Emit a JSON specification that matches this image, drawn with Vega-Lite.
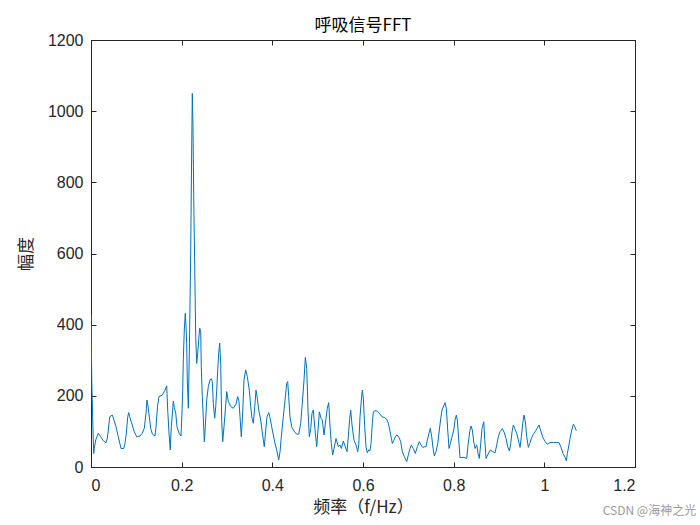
{
 "$schema": "https://vega.github.io/schema/vega-lite/v6.json",
 "width": 544, "height": 427,
 "autosize": {"type": "none"},
 "padding": {"left": 91, "top": 40, "right": 65, "bottom": 58},
 "background": "white",
 "title": {"text": "呼吸信号FFT", "font": "Noto Sans CJK SC", "fontSize": 17, "fontWeight": "normal", "color": "#000000", "offset": -3},
 "config": {
  "view": {"stroke": "#262626", "strokeWidth": 1},
  "axis": {"grid": false, "domainColor": "#262626", "tickColor": "#262626", "tickSize": -5, "labelFont": "Liberation Sans", "labelFontSize": 16, "labelColor": "#262626", "titleFont": "Noto Sans CJK SC", "titleFontSize": 17, "titleFontWeight": "normal", "titleColor": "#262626"}
 },
 "datasets": {"fft": [
{"f":0,"a":430},{"f":0.0018,"a":235},{"f":0.0044,"a":104},{"f":0.006,"a":38},{"f":0.0073,"a":52},{"f":0.0104,"a":76},{"f":0.0161,"a":95},{"f":0.0214,"a":85},{"f":0.0271,"a":74},{"f":0.0331,"a":68},{"f":0.036,"a":81},{"f":0.0382,"a":104},{"f":0.0413,"a":141},{"f":0.047,"a":146},{"f":0.0507,"a":132},{"f":0.0552,"a":113},{"f":0.0602,"a":85},{"f":0.0662,"a":52},{"f":0.0721,"a":52},{"f":0.075,"a":67},{"f":0.0779,"a":95},{"f":0.081,"a":141},{"f":0.0832,"a":153},{"f":0.0854,"a":141},{"f":0.0898,"a":123},{"f":0.0955,"a":99},{"f":0.1008,"a":85},{"f":0.1081,"a":87},{"f":0.1132,"a":95},{"f":0.1176,"a":109},{"f":0.1213,"a":151},{"f":0.1235,"a":188},{"f":0.1257,"a":171},{"f":0.1286,"a":141},{"f":0.1317,"a":109},{"f":0.1352,"a":93},{"f":0.1412,"a":87},{"f":0.1434,"a":113},{"f":0.1471,"a":174},{"f":0.15,"a":198},{"f":0.1573,"a":202},{"f":0.1633,"a":216},{"f":0.167,"a":228},{"f":0.1692,"a":160},{"f":0.1721,"a":95},{"f":0.1749,"a":48},{"f":0.1771,"a":113},{"f":0.1802,"a":160},{"f":0.1816,"a":185},{"f":0.1838,"a":167},{"f":0.1869,"a":151},{"f":0.1897,"a":113},{"f":0.1941,"a":95},{"f":0.1985,"a":87},
{"f":0.2001,"a":132},{"f":0.2023,"a":216},{"f":0.2036,"a":301},{"f":0.2058,"a":385},{"f":0.208,"a":432},{"f":0.2096,"a":394},{"f":0.2111,"a":348},{"f":0.2124,"a":245},{"f":0.2147,"a":165},{"f":0.2169,"a":320},{"f":0.22,"a":610},{"f":0.2222,"a":905},{"f":0.2235,"a":1050},{"f":0.225,"a":952},{"f":0.2266,"a":760},{"f":0.2288,"a":563},{"f":0.231,"a":366},{"f":0.2332,"a":291},{"f":0.2354,"a":320},{"f":0.2376,"a":357},{"f":0.2398,"a":390},{"f":0.242,"a":380},{"f":0.2433,"a":282},{"f":0.2455,"a":198},{"f":0.2477,"a":141},{"f":0.25,"a":71},{"f":0.2522,"a":113},{"f":0.2552,"a":188},{"f":0.2588,"a":226},{"f":0.2625,"a":245},{"f":0.2654,"a":248},{"f":0.2676,"a":240},{"f":0.2698,"a":179},{"f":0.2729,"a":137},{"f":0.2751,"a":169},{"f":0.2773,"a":216},{"f":0.2795,"a":273},{"f":0.2817,"a":320},{"f":0.2839,"a":348},{"f":0.2861,"a":292},{"f":0.2883,"a":130},{"f":0.2905,"a":71},{"f":0.2934,"a":113},{"f":0.2963,"a":160},{"f":0.2994,"a":212},
{"f":0.3029,"a":184},{"f":0.3082,"a":170},{"f":0.3139,"a":165},{"f":0.3199,"a":177},{"f":0.3236,"a":198},{"f":0.3265,"a":184},{"f":0.3287,"a":141},{"f":0.3316,"a":85},{"f":0.3347,"a":155},{"f":0.3375,"a":245},{"f":0.3413,"a":273},{"f":0.3448,"a":254},{"f":0.3492,"a":216},{"f":0.3523,"a":170},{"f":0.3552,"a":137},{"f":0.3581,"a":123},{"f":0.3612,"a":170},{"f":0.364,"a":216},{"f":0.3669,"a":193},{"f":0.37,"a":160},{"f":0.3744,"a":132},{"f":0.3772,"a":104},{"f":0.3801,"a":76},{"f":0.3823,"a":57},{"f":0.3854,"a":104},{"f":0.3883,"a":141},{"f":0.392,"a":153},{"f":0.3949,"a":139},{"f":0.3986,"a":113},
{"f":0.4022,"a":90},{"f":0.4059,"a":66},{"f":0.4097,"a":48},{"f":0.4141,"a":20},{"f":0.417,"a":43},{"f":0.4198,"a":85},{"f":0.4242,"a":141},{"f":0.428,"a":188},{"f":0.4317,"a":235},{"f":0.4339,"a":240},{"f":0.4361,"a":198},{"f":0.439,"a":141},{"f":0.4428,"a":113},{"f":0.4478,"a":101},{"f":0.4538,"a":92},{"f":0.4582,"a":92},{"f":0.4626,"a":123},{"f":0.4661,"a":179},{"f":0.4699,"a":245},{"f":0.4728,"a":308},{"f":0.4759,"a":277},{"f":0.4787,"a":160},{"f":0.4816,"a":85},{"f":0.4847,"a":108},{"f":0.4875,"a":151},{"f":0.4904,"a":160},{"f":0.4942,"a":104},{"f":0.4979,"a":57},
{"f":0.5008,"a":104},{"f":0.5037,"a":155},{"f":0.5074,"a":137},{"f":0.5103,"a":132},{"f":0.514,"a":90},{"f":0.5184,"a":137},{"f":0.5213,"a":165},{"f":0.5244,"a":181},{"f":0.5273,"a":113},{"f":0.5301,"a":66},{"f":0.5332,"a":34},{"f":0.5361,"a":52},{"f":0.5405,"a":80},{"f":0.5456,"a":57},{"f":0.5493,"a":62},{"f":0.5522,"a":52},{"f":0.5566,"a":73},{"f":0.561,"a":57},{"f":0.5648,"a":43},{"f":0.5676,"a":85},{"f":0.5707,"a":137},{"f":0.5729,"a":160},{"f":0.5758,"a":118},{"f":0.5802,"a":75},{"f":0.5846,"a":62},{"f":0.5884,"a":43},{"f":0.5906,"a":62},{"f":0.5934,"a":141},{"f":0.5963,"a":188},{"f":0.5985,"a":216},
{"f":0.6007,"a":193},{"f":0.6038,"a":113},{"f":0.6067,"a":57},{"f":0.6095,"a":40},{"f":0.6126,"a":48},{"f":0.6155,"a":46},{"f":0.6177,"a":66},{"f":0.6206,"a":123},{"f":0.6228,"a":155},{"f":0.6265,"a":158},{"f":0.6316,"a":157},{"f":0.636,"a":151},{"f":0.642,"a":141},{"f":0.6479,"a":139},{"f":0.6523,"a":134},{"f":0.6559,"a":123},{"f":0.659,"a":104},{"f":0.6625,"a":81},{"f":0.6647,"a":66},{"f":0.6678,"a":74},{"f":0.6713,"a":85},{"f":0.6744,"a":90},{"f":0.6773,"a":87},{"f":0.6801,"a":81},{"f":0.6832,"a":71},{"f":0.6868,"a":43},{"f":0.6912,"a":29},{"f":0.6965,"a":15},
{"f":0.7,"a":34},{"f":0.7037,"a":52},{"f":0.7066,"a":62},{"f":0.711,"a":52},{"f":0.7154,"a":38},{"f":0.7199,"a":57},{"f":0.7243,"a":71},{"f":0.728,"a":62},{"f":0.7318,"a":55},{"f":0.7362,"a":57},{"f":0.739,"a":57},{"f":0.7419,"a":76},{"f":0.7457,"a":95},{"f":0.7485,"a":109},{"f":0.7516,"a":85},{"f":0.7545,"a":52},{"f":0.7574,"a":31},{"f":0.7611,"a":43},{"f":0.7649,"a":66},{"f":0.7684,"a":104},{"f":0.7715,"a":137},{"f":0.7743,"a":160},{"f":0.7781,"a":172},{"f":0.781,"a":181},{"f":0.7838,"a":165},{"f":0.7869,"a":104},{"f":0.7898,"a":52},{"f":0.7927,"a":66},{"f":0.7964,"a":85},
{"f":0.8002,"a":104},{"f":0.803,"a":132},{"f":0.8059,"a":146},{"f":0.8081,"a":132},{"f":0.8112,"a":76},{"f":0.814,"a":26},{"f":0.8185,"a":27},{"f":0.8229,"a":27},{"f":0.8288,"a":24},{"f":0.8317,"a":62},{"f":0.8354,"a":99},{"f":0.8383,"a":115},{"f":0.8412,"a":104},{"f":0.8443,"a":71},{"f":0.8471,"a":52},{"f":0.8509,"a":62},{"f":0.8538,"a":38},{"f":0.8566,"a":24},{"f":0.8597,"a":66},{"f":0.8626,"a":108},{"f":0.8664,"a":127},{"f":0.8686,"a":76},{"f":0.8715,"a":24},{"f":0.8759,"a":36},{"f":0.8809,"a":48},{"f":0.8862,"a":43},{"f":0.8913,"a":40},{"f":0.895,"a":62},{"f":0.8985,"a":85},
{"f":0.9023,"a":99},{"f":0.9074,"a":108},{"f":0.9118,"a":96},{"f":0.9155,"a":80},{"f":0.9193,"a":57},{"f":0.9228,"a":45},{"f":0.9259,"a":66},{"f":0.9288,"a":99},{"f":0.9317,"a":118},{"f":0.9348,"a":108},{"f":0.9392,"a":94},{"f":0.9427,"a":76},{"f":0.9464,"a":55},{"f":0.9493,"a":85},{"f":0.9524,"a":123},{"f":0.9552,"a":146},{"f":0.9581,"a":127},{"f":0.9612,"a":85},{"f":0.9647,"a":55},{"f":0.9678,"a":66},{"f":0.9722,"a":83},{"f":0.9757,"a":92},{"f":0.9795,"a":99},{"f":0.9839,"a":108},{"f":0.9883,"a":118},{"f":0.9927,"a":99},{"f":0.9971,"a":82},
{"f":1.0022,"a":71},{"f":1.0066,"a":64},{"f":1.0126,"a":69},{"f":1.0199,"a":69},{"f":1.0274,"a":69},{"f":1.0325,"a":68},{"f":1.0369,"a":55},{"f":1.0413,"a":38},{"f":1.0457,"a":27},{"f":1.0486,"a":17},{"f":1.0508,"a":38},{"f":1.0539,"a":59},{"f":1.0567,"a":80},{"f":1.0605,"a":104},{"f":1.064,"a":120},{"f":1.0671,"a":113},{"f":1.0706,"a":102}
 ],
 "mark_note": [{"label": "CSDN @海神之光", "f": 1.335, "a": -124}]},
 "layer": [
  {
   "data": {"name": "fft"},
   "mark": {"type": "line", "color": "#0072BD", "strokeWidth": 1, "clip": true},
   "encoding": {
    "x": {"field": "f", "type": "quantitative", "scale": {"domain": [0, 1.2], "nice": false, "zero": false},
          "axis": {"orient": "bottom", "values": [0, 0.2, 0.4, 0.6, 0.8, 1, 1.2], "format": "~g", "title": "频率（f/Hz）", "labelPadding": 15, "titlePadding": 6}},
    "y": {"field": "a", "type": "quantitative", "scale": {"domain": [0, 1200], "nice": false},
          "axis": {"orient": "left", "values": [0, 200, 400, 600, 800, 1000, 1200], "format": "d", "title": "幅度", "labelPadding": 13, "titlePadding": 12}}
   }
  },
  {
   "data": {"name": "fft"},
   "mark": {"type": "line", "opacity": 0},
   "encoding": {
    "x": {"field": "f", "type": "quantitative", "axis": {"orient": "top", "values": [0, 0.2, 0.4, 0.6, 0.8, 1, 1.2], "labels": false, "title": null}},
    "y": {"field": "a", "type": "quantitative", "axis": {"orient": "right", "values": [0, 200, 400, 600, 800, 1000, 1200], "labels": false, "title": null}}
   }
  },
  {
   "data": {"name": "mark_note"},
   "mark": {"type": "text", "align": "right", "baseline": "middle", "font": "Noto Sans CJK SC", "fontSize": 12, "color": "#9a9a9a", "clip": false},
   "encoding": {
    "x": {"field": "f", "type": "quantitative", "axis": null},
    "y": {"field": "a", "type": "quantitative", "axis": null},
    "text": {"field": "label"}
   }
  }
 ],
 "resolve": {"axis": {"x": "independent", "y": "independent"}}
}
